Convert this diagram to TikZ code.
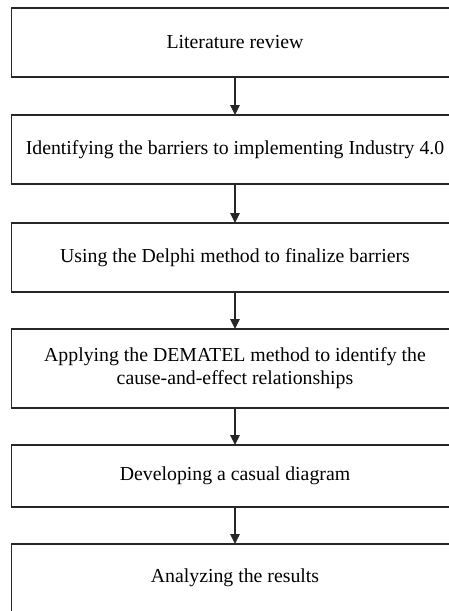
\documentclass[tikz,border=0pt]{standalone}
\usepackage{fontspec}
\setmainfont{Liberation Serif}
\usetikzlibrary{arrows.meta}
\begin{document}
\begin{tikzpicture}[x=1pt,y=-1pt,
  stepbox/.style={draw=black!85, line width=1.4pt, fill=white, minimum width=446.5pt,
    inner sep=0pt, outer sep=0pt, align=center, font=\fontsize{19.8}{23}\selectfont},
  flow/.style={draw=black!85, line width=1.1pt, -{Triangle[length=10pt,width=9.5pt]}}]
\useasboundingbox (0,0) rectangle (449,611);
\clip (0,0) rectangle (449,611);
\fill[white] (0,0) rectangle (449,611);
\node[stepbox, minimum height=69pt] (n1) at (235,42.5) {Literature review};
\node[stepbox, minimum height=69pt] (n2) at (235,149.5) {Identifying the barriers to implementing Industry 4.0};
\node[stepbox, minimum height=69pt] (n3) at (235,257.5) {Using the Delphi method to finalize barriers};
\node[stepbox, minimum height=79pt] (n4) at (235,368.5) {Applying the DEMATEL method to identify the\\cause-and-effect relationships};
\node[stepbox, minimum height=62pt] (n5) at (235,476) {Developing a casual diagram};
\node[stepbox, minimum height=68pt] (n6) at (235,578) {Analyzing the results};
\draw[flow] (n1) -- (n2);
\draw[flow] (n2) -- (n3);
\draw[flow] (n3) -- (n4);
\draw[flow] (n4) -- (n5);
\draw[flow] (n5) -- (n6);
\end{tikzpicture}
\end{document}
